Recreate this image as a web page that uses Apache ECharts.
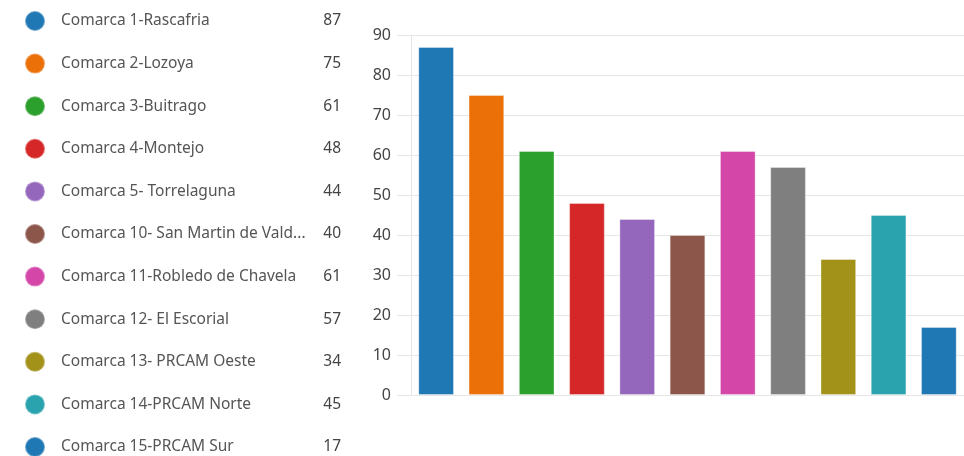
<!DOCTYPE html>
<html>
<head>
<meta charset="utf-8">
<script src="https://cdn.jsdelivr.net/npm/echarts@6/dist/echarts.min.js"></script>
<style>html,body{margin:0;padding:0;background:#fff}#c{width:964px;height:456px}</style>
</head>
<body>
<div id="c"></div>
<script>
const categories = [
  "Comarca 1-Rascafria",
  "Comarca 2-Lozoya",
  "Comarca 3-Buitrago",
  "Comarca 4-Montejo",
  "Comarca 5- Torrelaguna",
  "Comarca 10- San Martin de Valdeiglesias",
  "Comarca 11-Robledo de Chavela",
  "Comarca 12- El Escorial",
  "Comarca 13- PRCAM Oeste",
  "Comarca 14-PRCAM Norte",
  "Comarca 15-PRCAM Sur"
];
const values = [87, 75, 61, 48, 44, 40, 61, 57, 34, 45, 17];
const colors = ["#1F77B4","#EB7008","#2CA02C","#D62728","#9467BD","#8C564B","#D447A9","#7F7F7F","#A3921A","#2AA3AE","#1F77B4"];
const yTicks = [0, 10, 20, 30, 40, 50, 60, 70, 80, 90];

const FONT = "Noto Sans";
const chart = echarts.init(document.getElementById('c'), null, {renderer: 'canvas'});

const series = categories.map((name, i) => ({
  name: name,
  type: 'bar',
  stack: 'all',
  barCategoryGap: '29%',
  itemStyle: {color: colors[i], borderColor: 'rgba(255,255,255,0.35)', borderWidth: 1},
  data: categories.map((c, j) => j === i ? values[i] : '-')
}));

const valueOf = {};
categories.forEach((c, i) => valueOf[c] = values[i]);

chart.setOption({
  animation: false,
  color: colors,
  legend: {
    orient: 'vertical',
    left: 24,
    top: 10,
    height: 600,
    padding: 0,
    icon: 'circle',
    itemWidth: 20,
    itemHeight: 20,
    itemGap: 20.6,
    selectedMode: false,
    data: categories,
    formatter: function (name) {
      const t = echarts.format.truncateText(name, 250, '15.5px "' + FONT + '"', '...');
      return '{n|' + t + '}{v|' + valueOf[name] + '}';
    },
    textStyle: {
      fontFamily: FONT,
      fontSize: 15.5,
      color: '#555',
      lineHeight: 20,
      rich: {
        n: {fontFamily: FONT, fontSize: 15.5, color: '#555', width: 255, lineHeight: 20, padding: [0, 0, 0, 11]},
        v: {fontFamily: FONT, fontSize: 15.5, color: '#444', width: 25, lineHeight: 20, align: 'right'}
      }
    }
  },
  grid: {left: 411, right: 0, top: 35, bottom: 61, containLabel: false},
  xAxis: {
    type: 'category',
    data: categories,
    axisLine: {show: false},
    axisTick: {show: false},
    axisLabel: {show: false}
  },
  yAxis: {
    type: 'value',
    min: yTicks[0],
    max: yTicks[yTicks.length - 1],
    interval: 10,
    axisLine: {show: true, lineStyle: {color: '#e6e6e6', width: 1}},
    axisTick: {show: true, length: 14, lineStyle: {color: '#e6e6e6'}},
    splitLine: {show: true, lineStyle: {color: '#e6e6e6', width: 1}},
    axisLabel: {fontFamily: FONT, fontSize: 16, color: '#444', margin: 20}
  },
  series: series
});
</script>
</body>
</html>
